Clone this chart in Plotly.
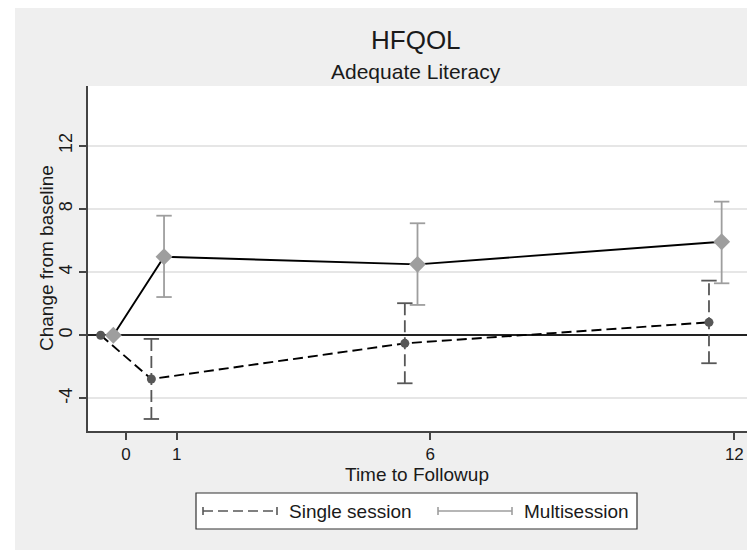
import plotly.graph_objects as go

# ---- data ----
times = [0, 1, 6, 12]
single_offset = -0.5
multi_offset = -0.25

single_mean = [0.0, -2.77, -0.51, 0.82]
single_lo = [None, -5.30, -3.04, -1.77]
single_hi = [None, -0.23, 2.03, 3.46]

multi_mean = [0.0, 4.97, 4.49, 5.92]
multi_lo = [None, 2.42, 1.92, 3.29]
multi_hi = [None, 7.57, 7.09, 8.46]

y_ticks = [-4, 0, 4, 8, 12]
y_tick_labels = ["-4", "0", "4", "8", "12"]
x_ticks = [0, 1, 6, 12]

series_names = ["Single session", "Multisession"]
title_text = "HFQOL"
subtitle_text = "Adequate Literacy"
x_title = "Time to Followup"
y_title = "Change from baseline"

single_x = [t + single_offset for t in times]
multi_x = [t + multi_offset for t in times]

FONT = "Liberation Sans, Arial, sans-serif"
DARK = "#575757"
LIGHT = "#9e9e9e"
TXT = "#1a1a1a"

# plot area in pixels (figure coords)
W, H = 755, 550
L, R, T, B = 80, 16, 78, 127
PW, PH = W - L - R, H - T - B


def px(xs):  # screen x -> paper
    return (xs - 8 - L) / PW


def py(ys):  # screen y -> paper
    return (H - B - (ys - 8)) / PH


fig = go.Figure()


def ci_traces(xs, lo, hi, color, dash):
    seg_x, seg_y, cap_x, cap_y = [], [], [], []
    for x, a, b in zip(xs, lo, hi):
        if a is None:
            continue
        seg_x += [x, x, None]
        seg_y += [a, b, None]
        cap_x += [x, x]
        cap_y += [a, b]
    fig.add_trace(go.Scatter(x=seg_x, y=seg_y, mode="lines",
                             line=dict(color=color, width=1.8, dash=dash),
                             showlegend=False, hoverinfo="skip"))
    fig.add_trace(go.Scatter(x=cap_x, y=cap_y, mode="markers",
                             marker=dict(symbol="line-ew", size=11,
                                         line=dict(color=color, width=1.8)),
                             showlegend=False, hoverinfo="skip"))


ci_traces(single_x, single_lo, single_hi, DARK, "12px,5px")
ci_traces(multi_x, multi_lo, multi_hi, LIGHT, "solid")

fig.add_trace(go.Scatter(x=single_x, y=single_mean, mode="lines+markers",
                         name=series_names[0],
                         line=dict(color="black", width=1.9, dash="10px,5px"),
                         marker=dict(symbol="circle", size=9, color=DARK),
                         showlegend=False))
fig.add_trace(go.Scatter(x=multi_x, y=multi_mean, mode="lines+markers",
                         name=series_names[1],
                         line=dict(color="black", width=1.9),
                         marker=dict(symbol="diamond", size=13, color=LIGHT),
                         showlegend=False))

shapes = [
    # grey page background
    dict(type="rect", xref="paper", yref="paper", layer="below",
         x0=px(15), x1=px(770), y0=py(570), y1=py(6),
         fillcolor="#efefef", line=dict(width=0)),
    # white plot area
    dict(type="rect", xref="paper", yref="paper", layer="below",
         x0=0, x1=1, y0=0, y1=1, fillcolor="white", line=dict(width=0)),
    # legend box
    dict(type="rect", xref="paper", yref="paper",
         x0=px(196), x1=px(637), y0=py(529), y1=py(493),
         fillcolor="white", line=dict(color="#333", width=1.2)),
]
annotations = []
leg_y = 511
for name, (x0, x1, tx), color, dash in [
    (series_names[0], (203, 277, 287), DARK, "10px,5px"),
    (series_names[1], (438, 512, 522), LIGHT, "solid"),
]:
    shapes.append(dict(type="line", xref="paper", yref="paper",
                       x0=px(x0), x1=px(x1), y0=py(leg_y), y1=py(leg_y),
                       line=dict(color=color, width=1.6, dash=dash)))
    for xe in (x0, x1):
        shapes.append(dict(type="line", xref="paper", yref="paper",
                           x0=px(xe), x1=px(xe), y0=py(leg_y - 4), y1=py(leg_y + 4),
                           line=dict(color=color, width=1.6)))
    annotations.append(dict(text=name, xref="paper", yref="paper",
                            x=px(tx), y=py(leg_y), xanchor="left", yanchor="middle",
                            showarrow=False, font=dict(size=19, color=TXT)))

annotations.append(dict(text=title_text, xref="paper", yref="paper",
                        x=px(416), y=py(40), xanchor="center", yanchor="middle",
                        showarrow=False, font=dict(size=26, color=TXT)))
annotations.append(dict(text=subtitle_text, xref="paper", yref="paper",
                        x=px(416), y=py(71), xanchor="center", yanchor="middle",
                        showarrow=False, font=dict(size=21, color=TXT)))
annotations.append(dict(text=x_title, xref="paper", yref="paper",
                        x=px(417), y=py(474), xanchor="center", yanchor="middle",
                        showarrow=False, font=dict(size=19, color=TXT)))
annotations.append(dict(text=y_title, xref="paper", yref="paper", textangle=-90,
                        x=px(46), y=py(258), xanchor="center", yanchor="middle",
                        showarrow=False, font=dict(size=19, color=TXT)))

fig.update_layout(
    width=W, height=H,
    paper_bgcolor="white",
    plot_bgcolor="rgba(0,0,0,0)",
    margin=dict(l=L, r=R, t=T, b=B),
    font=dict(family=FONT, color=TXT),
    showlegend=False,
    xaxis=dict(range=[-0.75, 12.25], tickvals=x_ticks, ticks="outside",
               ticklen=7, tickcolor="#444", tickwidth=1.5,
               showgrid=False, zeroline=False,
               showline=True, linecolor="#444", linewidth=1.5,
               tickfont=dict(size=17)),
    yaxis=dict(range=[-6.06, 15.78], tickvals=y_ticks, ticktext=y_tick_labels,
               ticks="outside",
               ticklen=7, tickcolor="#444", tickwidth=1.5, tickangle=-90,
               showgrid=True, gridcolor="#e6e6e6", gridwidth=1.5,
               zeroline=True, zerolinecolor="#222", zerolinewidth=1.5,
               showline=True, linecolor="#444", linewidth=1.5,
               tickfont=dict(size=18)),
    shapes=shapes,
    annotations=annotations,
)

fig.write_html("out.html")
